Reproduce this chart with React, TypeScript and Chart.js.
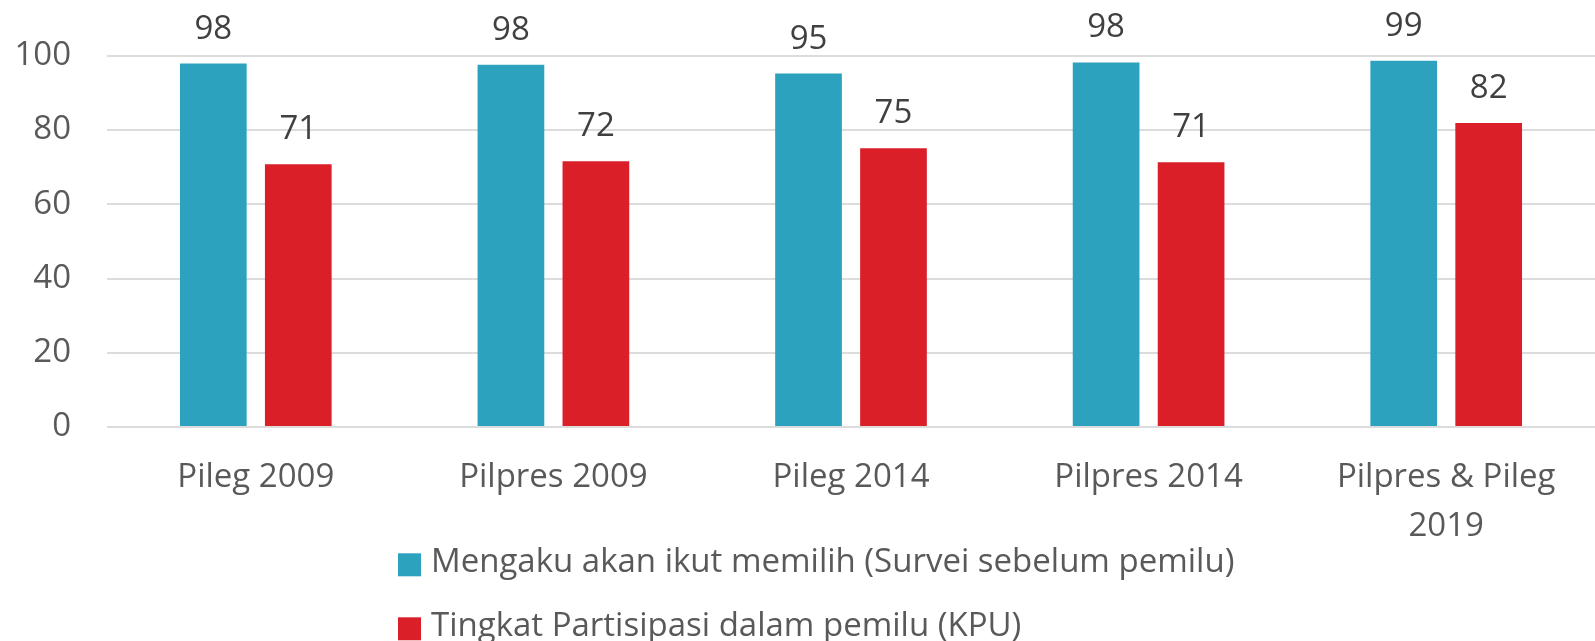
import React, { useEffect, useRef } from "react";
import { Chart, registerables } from "chart.js";

Chart.register(...registerables);

const categories: (string | string[])[] = [
  "Pileg 2009",
  "Pilpres 2009",
  "Pileg 2014",
  "Pilpres 2014",
  ["Pilpres & Pileg", "2019"],
];
const surveyValues = [97.9, 97.6, 95.2, 98.2, 98.7];
const kpuValues = [70.8, 71.6, 75.1, 71.3, 81.9];
const seriesLabels = [
  "Mengaku akan ikut memilih (Survei sebelum pemilu)",
  "Tingkat Partisipasi dalam pemilu (KPU)",
];
const yTicks = [0, 20, 40, 60, 80, 100];

const TEAL = "#2CA2BF";
const RED = "#DA1F29";
const FONT = "'Open Sans', 'Noto Sans', sans-serif";

const valueLabelPlugin = {
  id: "valueLabels",
  afterDatasetsDraw(chart: any) {
    const ctx = chart.ctx;
    ctx.save();
    ctx.font = `33px ${FONT}`;
    ctx.fillStyle = "#404040";
    ctx.textAlign = "center";
    ctx.textBaseline = "alphabetic";
    chart.data.datasets.forEach((ds: any, di: number) => {
      const meta = chart.getDatasetMeta(di);
      meta.data.forEach((el: any, i: number) => {
        ctx.fillText(String(Math.round(ds.data[i])), el.x, el.y - 25);
      });
    });
    ctx.restore();
  },
};

const customLegendPlugin = {
  id: "customLegend",
  afterDraw(chart: any) {
    const ctx = chart.ctx;
    const xs = chart.scales.x;
    ctx.save();
    ctx.font = `33px ${FONT}`;
    ctx.textAlign = "left";
    ctx.textBaseline = "alphabetic";
    chart.data.datasets.forEach((ds: any, i: number) => {
      const top = xs.bottom + 3 + i * 64;
      ctx.fillStyle = ds.backgroundColor;
      ctx.fillRect(398, top, 23, 23);
      ctx.fillStyle = "#595959";
      ctx.fillText(ds.label, 431, top + 18.5);
    });
    ctx.restore();
  },
};

export default function App() {
  const canvasRef = useRef<HTMLCanvasElement | null>(null);

  useEffect(() => {
    if (!canvasRef.current) return;
    const chart = new Chart(canvasRef.current, {
      type: "bar",
      data: {
        labels: categories,
        datasets: [
          {
            label: seriesLabels[0],
            data: surveyValues,
            backgroundColor: TEAL,
            categoryPercentage: 0.571,
            barPercentage: 0.785,
          },
          {
            label: seriesLabels[1],
            data: kpuValues,
            backgroundColor: RED,
            categoryPercentage: 0.571,
            barPercentage: 0.785,
          },
        ],
      },
      options: {
        animation: false,
        responsive: true,
        maintainAspectRatio: false,
        layout: { padding: { top: 49, bottom: 90.7, left: 0, right: 0 } },
        plugins: {
          legend: { display: false },
          tooltip: { enabled: false },
        },
        scales: {
          x: {
            afterFit: (s: any) => {
              s.height = 123.3;
            },
            grid: { display: false, drawTicks: false },
            border: { display: false },
            ticks: {
              color: "#595959",
              font: { family: FONT, size: 33, lineHeight: 1.467 },
              padding: 26.5,
              maxRotation: 0,
              autoSkip: false,
            },
          },
          y: {
            min: 0,
            max: 100,
            afterFit: (s: any) => {
              s.width = 107;
            },
            afterBuildTicks: (s: any) => {
              s.ticks = yTicks.map((v) => ({ value: v }));
            },
            grid: { color: "#DCDCDC", lineWidth: 2, drawTicks: false },
            border: { display: false },
            ticks: {
              color: "#595959",
              font: { family: FONT, size: 33 },
              padding: 36,
            },
          },
        },
      },
      plugins: [valueLabelPlugin, customLegendPlugin],
    });
    return () => chart.destroy();
  }, []);

  return (
    <div style={{ position: "fixed", left: 0, top: 0, width: 1595, height: 641, background: "#fff" }}>
      <canvas ref={canvasRef} />
    </div>
  );
}
